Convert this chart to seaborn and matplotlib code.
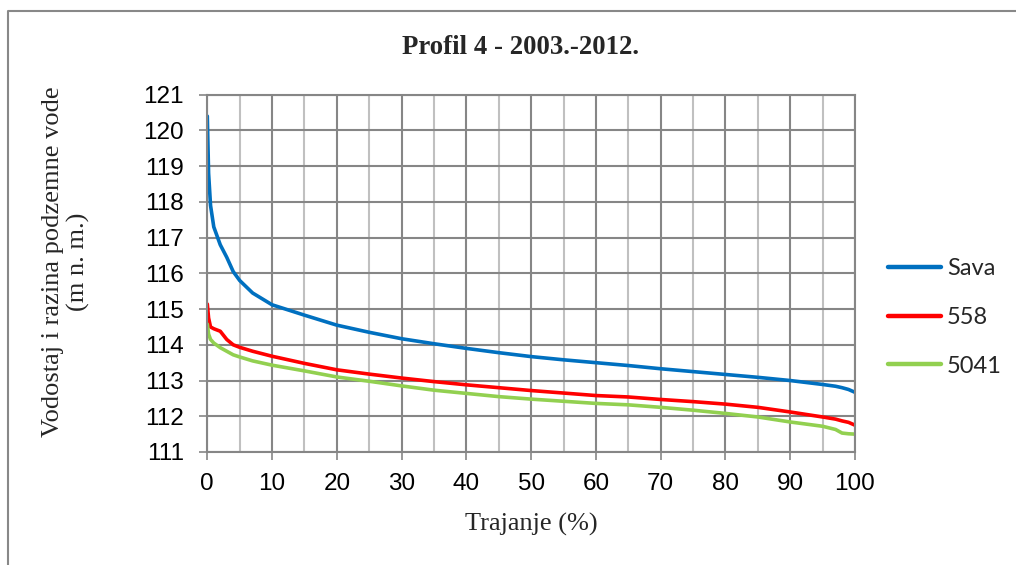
import matplotlib
matplotlib.use("Agg")
import matplotlib.pyplot as plt
from matplotlib.lines import Line2D
from matplotlib.ticker import MultipleLocator
import seaborn as sns
import pandas as pd

# ---- data ----
trajanje = [0, 0.2, 0.5, 1, 2, 3, 4, 5, 7, 10, 15, 20, 25, 30, 35, 40, 45, 50,
            55, 60, 65, 70, 75, 80, 85, 90, 95, 97, 98, 99, 100]
sava = [120.4, 118.8, 117.9, 117.3, 116.8, 116.45, 116.05, 115.8, 115.45, 115.12,
        114.83, 114.55, 114.35, 114.17, 114.03, 113.9, 113.78, 113.67, 113.58, 113.5,
        113.42, 113.33, 113.25, 113.17, 113.09, 113.0, 112.89, 112.84, 112.8, 112.75, 112.67]
p558 = [115.14, 114.75, 114.5, 114.45, 114.38, 114.15, 114.0, 113.93, 113.82, 113.68,
        113.48, 113.3, 113.18, 113.07, 112.97, 112.88, 112.8, 112.72, 112.65, 112.58,
        112.54, 112.47, 112.41, 112.34, 112.25, 112.12, 111.98, 111.92, 111.87, 111.83, 111.75]
p5041 = [114.58, 114.3, 114.15, 114.05, 113.92, 113.82, 113.72, 113.66, 113.55, 113.43,
         113.27, 113.1, 112.98, 112.85, 112.73, 112.64, 112.55, 112.48, 112.42, 112.36,
         112.32, 112.25, 112.17, 112.08, 111.98, 111.84, 111.72, 111.63, 111.53, 111.51, 111.5]
series_names = ["Sava", "558", "5041"]
series_colors = ["#0070C0", "#FF0000", "#92D050"]
title = "Profil 4 - 2003.-2012."
xlabel = "Trajanje (%)"
ylabel = "Vodostaj i razina podzemne vode\n(m n. m.)"

rows = []
for name, vals in zip(series_names, [sava, p558, p5041]):
    for x, y in zip(trajanje, vals):
        rows.append({"x": x, "y": y, "serija": name})
df = pd.DataFrame(rows)

sns.set_style("white")
plt.rcParams["font.family"] = ["Liberation Sans", "DejaVu Sans"]

W, H = 1016, 565
fig = plt.figure(figsize=(W / 100, H / 100), dpi=100)
ax = fig.add_axes([207.3 / W, 1 - 452 / H, (855 - 207.3) / W, (452 - 94.7) / H])

grid_dark = "#868686"
grid_light = "#C0C0C0"

ax.set_xlim(0, 100)
ax.set_ylim(111, 121)
ax.xaxis.set_major_locator(MultipleLocator(10))
ax.xaxis.set_minor_locator(MultipleLocator(5))
ax.yaxis.set_major_locator(MultipleLocator(1))
ax.grid(True, which="major", axis="both", color=grid_dark, linewidth=1.5)
ax.grid(True, which="minor", axis="x", color=grid_light, linewidth=1.5)
ax.set_axisbelow(True)

sns.lineplot(data=df, x="x", y="y", hue="serija", hue_order=series_names,
             palette=series_colors, linewidth=2.6, ax=ax, legend=False,
             estimator=None, sort=False)

for s in ax.spines.values():
    s.set_color(grid_dark)
    s.set_linewidth(1.5)

ax.tick_params(axis="both", which="major", length=6, width=1.2, color=grid_dark,
               labelsize=17.5, labelcolor="black", direction="out",
               bottom=True, left=True)
ax.tick_params(axis="x", which="minor", length=0)
ax.tick_params(axis="x", which="major", pad=9)
ax.tick_params(axis="y", which="major", pad=11)
ax.set_xlabel("")
ax.set_ylabel("")

fig.text(531 / W, 1 - 524 / H, xlabel, family="Liberation Serif", fontsize=19,
         ha="center", va="center")
fig.text(66 / W, 1 - 262 / H, ylabel, family="Liberation Serif", fontsize=19,
         ha="center", va="center", rotation=90, multialignment="center",
         linespacing=1.15)
fig.text(520 / W, 1 - 48 / H, title, family="Liberation Serif", fontweight="bold",
         fontsize=19.3, ha="center", va="center")

handles = [Line2D([0], [0], color=c, linewidth=3.2) for c in series_colors]
fig.legend(handles, series_names, loc="upper left",
           bbox_to_anchor=(888 / W, 1 - 258 / H), frameon=False,
           prop={"family": "Lato", "size": 17}, handlelength=2.25,
           handletextpad=0.25, labelspacing=1.18, borderpad=0, borderaxespad=0)

# outer chart border
fig.add_artist(Line2D([8 / W, 8 / W, 1.0], [0.0, 1 - 10.5 / H, 1 - 10.5 / H],
                      transform=fig.transFigure, color="#888888", linewidth=1.5))

fig.savefig("out.png", dpi=100)
